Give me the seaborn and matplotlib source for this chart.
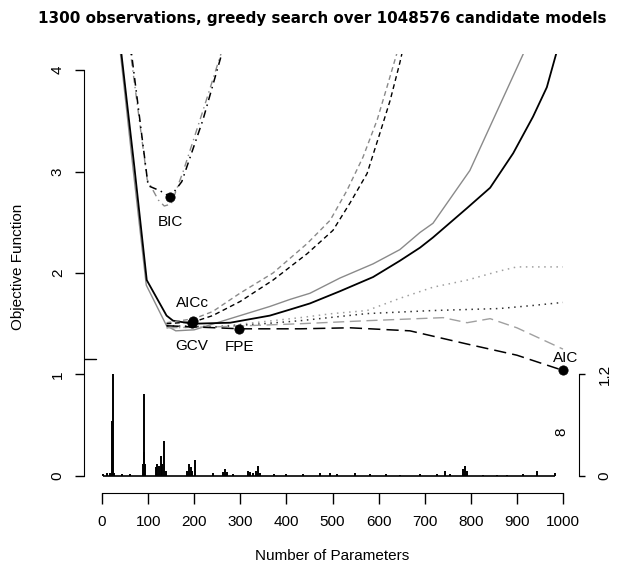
import matplotlib
matplotlib.use("Agg")
import matplotlib.pyplot as plt
import seaborn as sns

# criterion curves (number of parameters, objective value)
solid_blk_x = [42, 70, 97, 140, 154, 197, 278, 364, 408, 451, 516, 588, 646, 690, 718, 792, 842, 892, 935, 965, 1000]
solid_blk_y = [4.16, 3.05, 1.93, 1.58, 1.53, 1.50, 1.51, 1.58, 1.64, 1.70, 1.82, 1.96, 2.12, 2.25, 2.35, 2.64, 2.84, 3.18, 3.54, 3.83, 4.40]

solid_gry_x = [40, 68, 96, 140, 160, 200, 278, 364, 408, 451, 516, 588, 646, 690, 718, 798, 913, 930]
solid_gry_y = [4.16, 3.00, 1.88, 1.48, 1.43, 1.44, 1.55, 1.67, 1.74, 1.80, 1.95, 2.09, 2.23, 2.40, 2.49, 3.01, 4.15, 4.32]

dash_blk_x = [140, 200, 240, 300, 371, 445, 501, 538, 575, 603, 625, 646, 660]
dash_blk_y = [1.50, 1.52, 1.58, 1.72, 1.93, 2.19, 2.42, 2.69, 2.98, 3.38, 3.70, 4.07, 4.35]

dash_gry_x = [140, 200, 240, 299, 371, 445, 495, 531, 566, 597, 618, 640, 655]
dash_gry_y = [1.51, 1.55, 1.62, 1.80, 2.00, 2.29, 2.52, 2.81, 3.14, 3.51, 3.83, 4.17, 4.40]

dot_gry_x = [140, 250, 350, 430, 500, 575, 646, 718, 792, 863, 900, 1000]
dot_gry_y = [1.46, 1.47, 1.52, 1.56, 1.60, 1.63, 1.75, 1.86, 1.93, 2.02, 2.06, 2.06]

dot_blk_x = [140, 250, 350, 430, 575, 718, 863, 935, 1000]
dot_blk_y = [1.48, 1.47, 1.50, 1.53, 1.60, 1.63, 1.65, 1.68, 1.71]

ldash_gry_x = [140, 250, 430, 575, 740, 792, 842, 900, 1000]
ldash_gry_y = [1.46, 1.47, 1.50, 1.53, 1.56, 1.51, 1.55, 1.46, 1.25]

ldash_blk_x = [140, 300, 430, 538, 668, 792, 900, 1000]
ldash_blk_y = [1.48, 1.45, 1.45, 1.46, 1.43, 1.30, 1.19, 1.04]

bic_blk_x = [64, 100, 126, 148, 173, 219, 256, 262]
bic_blk_y = [4.16, 2.86, 2.81, 2.75, 2.90, 3.51, 4.10, 4.20]

bic_gry_x = [62, 98, 122, 135, 150, 176, 219, 258]
bic_gry_y = [4.16, 2.92, 2.72, 2.66, 2.68, 3.00, 3.60, 4.16]

# minima of each criterion
min_names = ["BIC", "AICc", "GCV", "FPE", "AIC"]
min_x = [148, 197, 195, 298, 1000]
min_y = [2.75, 1.53, 1.51, 1.45, 1.04]

# selection frequency of each parameter (right axis)
spike_x = [3, 10, 17, 21, 23, 25, 43, 61,
           88, 90, 91, 93,
           116, 120, 124, 127, 131, 135, 138,
           184, 188, 192, 196, 202,
           241, 263, 267, 272, 285,
           317, 320, 328, 335, 339, 343,
           372, 400, 436, 473, 495, 509, 549, 581, 617, 646, 690, 726,
           744, 755, 784, 787, 791, 827, 856, 878, 914, 943, 983]
spike_h = [0.02, 0.03, 0.04, 0.65, 1.20, 0.04, 0.02, 0.02,
           0.14, 0.28, 0.97, 0.14,
           0.10, 0.14, 0.12, 0.24, 0.14, 0.41, 0.06,
           0.06, 0.14, 0.10, 0.06, 0.19,
           0.03, 0.05, 0.08, 0.05, 0.02,
           0.06, 0.05, 0.03, 0.06, 0.12, 0.04,
           0.02, 0.02, 0.02, 0.03, 0.04, 0.02, 0.04, 0.02, 0.02, 0.01, 0.02, 0.02,
           0.06, 0.02, 0.08, 0.12, 0.06, 0.01, 0.01, 0.01, 0.02, 0.06, 0.03]

x_ticks = [0, 100, 200, 300, 400, 500, 600, 700, 800, 900, 1000]
y_ticks = [0, 1, 2, 3, 4]
right_ticks = [0, 1.2]

sns.set_style("ticks")
plt.rcParams["font.family"] = ["Liberation Sans", "DejaVu Sans"]
plt.rcParams.update({"text.color": "black", "axes.labelcolor": "black",
                     "xtick.color": "black", "ytick.color": "black",
                     "axes.edgecolor": "black"})

fig = plt.figure(figsize=(6.18, 5.71), dpi=100)
ax = fig.add_axes([83.6 / 618, 78 / 571, 497.8 / 618, 439 / 571])
ax.set_xlim(-40, 1040)
ax.set_ylim(-0.168, 4.158)

GRAY = "#8a8a8a"
LGRAY = "#a0a0a0"
curves = [
    (solid_gry_x, solid_gry_y, GRAY, "-", 1.0),
    (solid_blk_x, solid_blk_y, "black", "-", 1.3),
    (dash_gry_x, dash_gry_y, GRAY, (0, (3.5, 2.5)), 1.0),
    (dash_blk_x, dash_blk_y, "black", (0, (3.5, 2.5)), 1.0),
    (dot_gry_x, dot_gry_y, LGRAY, (0, (1, 3)), 1.1),
    (dot_blk_x, dot_blk_y, "#333333", (0, (1, 3)), 1.1),
    (ldash_gry_x, ldash_gry_y, LGRAY, (0, (8, 4)), 1.0),
    (ldash_blk_x, ldash_blk_y, "black", (0, (8, 4)), 1.1),
    (bic_gry_x, bic_gry_y, GRAY, (0, (1, 3, 5, 3)), 1.0),
    (bic_blk_x, bic_blk_y, "black", (0, (1, 3, 5, 3)), 1.1),
]
for cx, cy, col, ls, lw in curves:
    sns.lineplot(x=cx, y=cy, ax=ax, color=col, linestyle=ls, linewidth=lw,
                 sort=False, estimator=None)

sns.scatterplot(x=min_x, y=min_y, ax=ax, color="black", s=45, edgecolor="black",
                linewidth=0.5, zorder=5, clip_on=False)

label_offsets = {"BIC": (0, -18), "AICc": (0, 13), "GCV": (0, -17), "FPE": (0, -13), "AIC": (2, 9)}
for name, mx, my in zip(min_names, min_x, min_y):
    dx, dy = label_offsets[name]
    ax.annotate(name, (mx, my), xytext=(dx, dy), textcoords="offset points",
                ha="center", va="center", fontsize=11, color="black")

# left and bottom axes in R style
sns.despine(ax=ax)
ax.spines["left"].set_bounds(0, 4)
ax.spines["bottom"].set_bounds(0, 1000)
ax.set_xticks(x_ticks)
ax.set_yticks(y_ticks)
ax.set_yticklabels([str(t) for t in y_ticks], rotation=90, va="center")
ax.tick_params(axis="x", length=8, width=1, pad=8, labelsize=11)
ax.tick_params(axis="y", length=6.5, width=1, pad=7, labelsize=11)
ax.axhline(1.15, xmin=0, xmax=0.024, color="black", lw=1)
ax.set_xlabel("Number of Parameters", fontsize=11)
ax.set_ylabel("Objective Function", fontsize=11)
ax.xaxis.set_label_coords(0.5, -0.128)
ax.yaxis.set_label_coords(-0.118, 0.515)

# right axis for the selection frequencies
ax2 = ax.twinx()
ax2.set_ylim(-0.168 * 1.2, 4.158 * 1.2)
ax2.vlines(spike_x, 0, spike_h, color="black", lw=1.4)
ax2.hlines(0, spike_x[0], spike_x[-1], color="black", lw=1.2)
for s in ["top", "left", "bottom"]:
    ax2.spines[s].set_visible(False)
ax2.spines["right"].set_bounds(0, 1.2)
ax2.spines["right"].set_position(("axes", 0.995))
ax2.set_yticks(right_ticks)
ax2.set_yticklabels(["0", "1.2"], rotation=90, va="center")
ax2.tick_params(axis="y", length=4.5, width=1, pad=9, labelsize=11)
ax2.set_ylabel("8", rotation=90, fontsize=11)
ax2.yaxis.set_label_coords(0.946, 0.14)

fig.text(322 / 618, 1 - 19 / 571,
         "1300 observations, greedy search over 1048576 candidate models",
         ha="center", va="center", fontsize=10.9, fontweight="bold",
         family="DejaVu Sans", color="black")

fig.savefig("out.png", dpi=100)
